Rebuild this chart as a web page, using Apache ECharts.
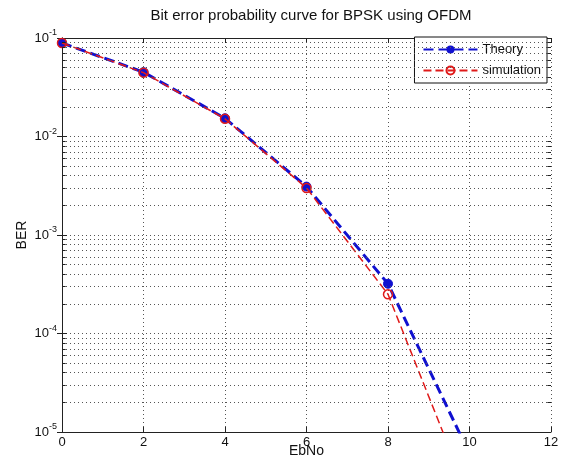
<!DOCTYPE html>
<html>
<head>
<meta charset="utf-8">
<script src="https://cdn.jsdelivr.net/npm/echarts@6/dist/echarts.min.js"></script>
<style>
html,body{margin:0;padding:0;background:#fff;}
#c{width:562px;height:457px;}
</style>
</head>
<body>
<div id="c"></div>
<script>
var ebNo = [0, 2, 4, 6, 8, 10];
var theory = [0.089, 0.045, 0.0153, 0.0031, 0.00032, 0.0000060];
var simulation = [0.089, 0.0445, 0.0151, 0.0030, 0.00025, 0.0000021];
var xTicks = [0, 2, 4, 6, 8, 10, 12];
var yDecades = [1e-5, 1e-4, 1e-3, 1e-2, 1e-1];
var yMinor = [2e-5,3e-5,4e-5,5e-5,6e-5,7e-5,8e-5,9e-5,
              2e-4,3e-4,4e-4,5e-4,6e-4,7e-4,8e-4,9e-4,
              2e-3,3e-3,4e-3,5e-3,6e-3,7e-3,8e-3,9e-3,
              2e-2,3e-2,4e-2,5e-2,6e-2,7e-2,8e-2,9e-2];

var FONT = '"Liberation Sans", Arial, sans-serif';
var chart = echarts.init(document.getElementById('c'), null, {renderer: 'canvas'});
var gridDot = {color: '#555', width: 1, type: [1, 3]};
var tickStyle = {color: '#222', width: 1, type: 'solid'};

function pairs(xs, ys) { return xs.map(function (x, i) { return [x, ys[i]]; }); }

var minorLines = [];
yMinor.forEach(function (v) {
  minorLines.push([{coord: [0, v], lineStyle: gridDot}, {coord: [12, v]}]);
  minorLines.push([{coord: [0, v], lineStyle: tickStyle}, {coord: [0.09, v]}]);
  minorLines.push([{coord: [11.91, v], lineStyle: tickStyle}, {coord: [12, v]}]);
});

var option = {
  backgroundColor: '#fff',
  animation: false,
  title: {
    text: 'Bit error probability curve for BPSK using OFDM',
    left: 306, top: 3, textAlign: 'center',
    textStyle: {fontFamily: FONT, fontSize: 15, fontWeight: 'normal', color: '#111'}
  },
  legend: {
    right: 15, top: 37, orient: 'vertical',
    backgroundColor: '#fff', borderColor: '#111', borderWidth: 1,
    padding: [6, 6, 6, 8], itemGap: 8, itemWidth: 54, itemHeight: 10,
    textStyle: {fontFamily: FONT, fontSize: 13, color: '#111'},
    data: ['Theory', 'simulation']
  },
  grid: {left: 62, right: 11, top: 38, bottom: 25, containLabel: false, outerBoundsMode: 'none'},
  xAxis: [{
    type: 'value', min: 0, max: 12, interval: 2,
    name: 'EbNo', nameLocation: 'middle', nameGap: 12, nameMoveOverlap: false,
    nameTextStyle: {fontFamily: FONT, fontSize: 14, color: '#111', verticalAlign: 'top'},
    axisLine: {lineStyle: {color: '#222', width: 1}},
    axisTick: {inside: true, length: 5, lineStyle: {color: '#222'}},
    axisLabel: {fontFamily: FONT, fontSize: 13, color: '#111', margin: 4,
      formatter: function (v) { return xTicks.indexOf(v) >= 0 ? String(v) : ''; }},
    splitLine: {show: true, lineStyle: gridDot}
  }, {
    type: 'value', min: 0, max: 12, interval: 2, position: 'top',
    axisLine: {show: true, lineStyle: {color: '#222', width: 1}},
    axisTick: {inside: true, length: 5, lineStyle: {color: '#222'}},
    axisLabel: {show: false}, splitLine: {show: false}
  }],
  yAxis: [{
    type: 'log', logBase: 10, min: 1e-5, max: 1e-1,
    name: 'BER', nameLocation: 'middle', nameGap: 33, nameRotate: 90, nameMoveOverlap: false,
    nameTextStyle: {fontFamily: FONT, fontSize: 14, color: '#111'},
    axisLine: {show: true, lineStyle: {color: '#222', width: 1}},
    axisTick: {show: true, inside: true, length: 5, lineStyle: {color: '#222'}},
    axisLabel: {
      fontFamily: FONT, fontSize: 13, color: '#111', margin: 5,
      formatter: function (v) {
        var e = Math.round(Math.log10(v));
        return '10{e|' + e + '}';
      },
      rich: {e: {fontFamily: FONT, fontSize: 9, color: '#111', padding: [0, 0, 10, 0]}}
    },
    splitLine: {show: true, lineStyle: gridDot}
  }, {
    type: 'log', logBase: 10, min: 1e-5, max: 1e-1, position: 'right',
    axisLine: {show: true, lineStyle: {color: '#222', width: 1}},
    axisTick: {show: true, inside: true, length: 5, lineStyle: {color: '#222'}},
    axisLabel: {show: false}, splitLine: {show: false}
  }],
  series: [{
    name: 'gridMinor', type: 'line', data: [], silent: true,
    markLine: {
      silent: true, symbol: ['none', 'none'], label: {show: false},
      animation: false,
      data: minorLines
    }
  }, {
    name: 'Theory', type: 'line', data: pairs(ebNo, theory),
    clip: true,
    symbol: 'circle', symbolSize: 9,
    itemStyle: {color: '#1010d0', borderColor: '#1010d0'},
    lineStyle: {color: '#1010d0', width: 3, type: [10, 5]},
    z: 3
  }, {
    name: 'simulation', type: 'line', data: pairs(ebNo, simulation),
    clip: true,
    symbol: 'circle', symbolSize: 9,
    itemStyle: {color: 'rgba(0,0,0,0)', borderColor: '#e01a1a', borderWidth: 1.5},
    lineStyle: {color: '#e01a1a', width: 1.5, type: [8, 4]},
    z: 4
  }]
};
chart.setOption(option);
</script>
</body>
</html>
